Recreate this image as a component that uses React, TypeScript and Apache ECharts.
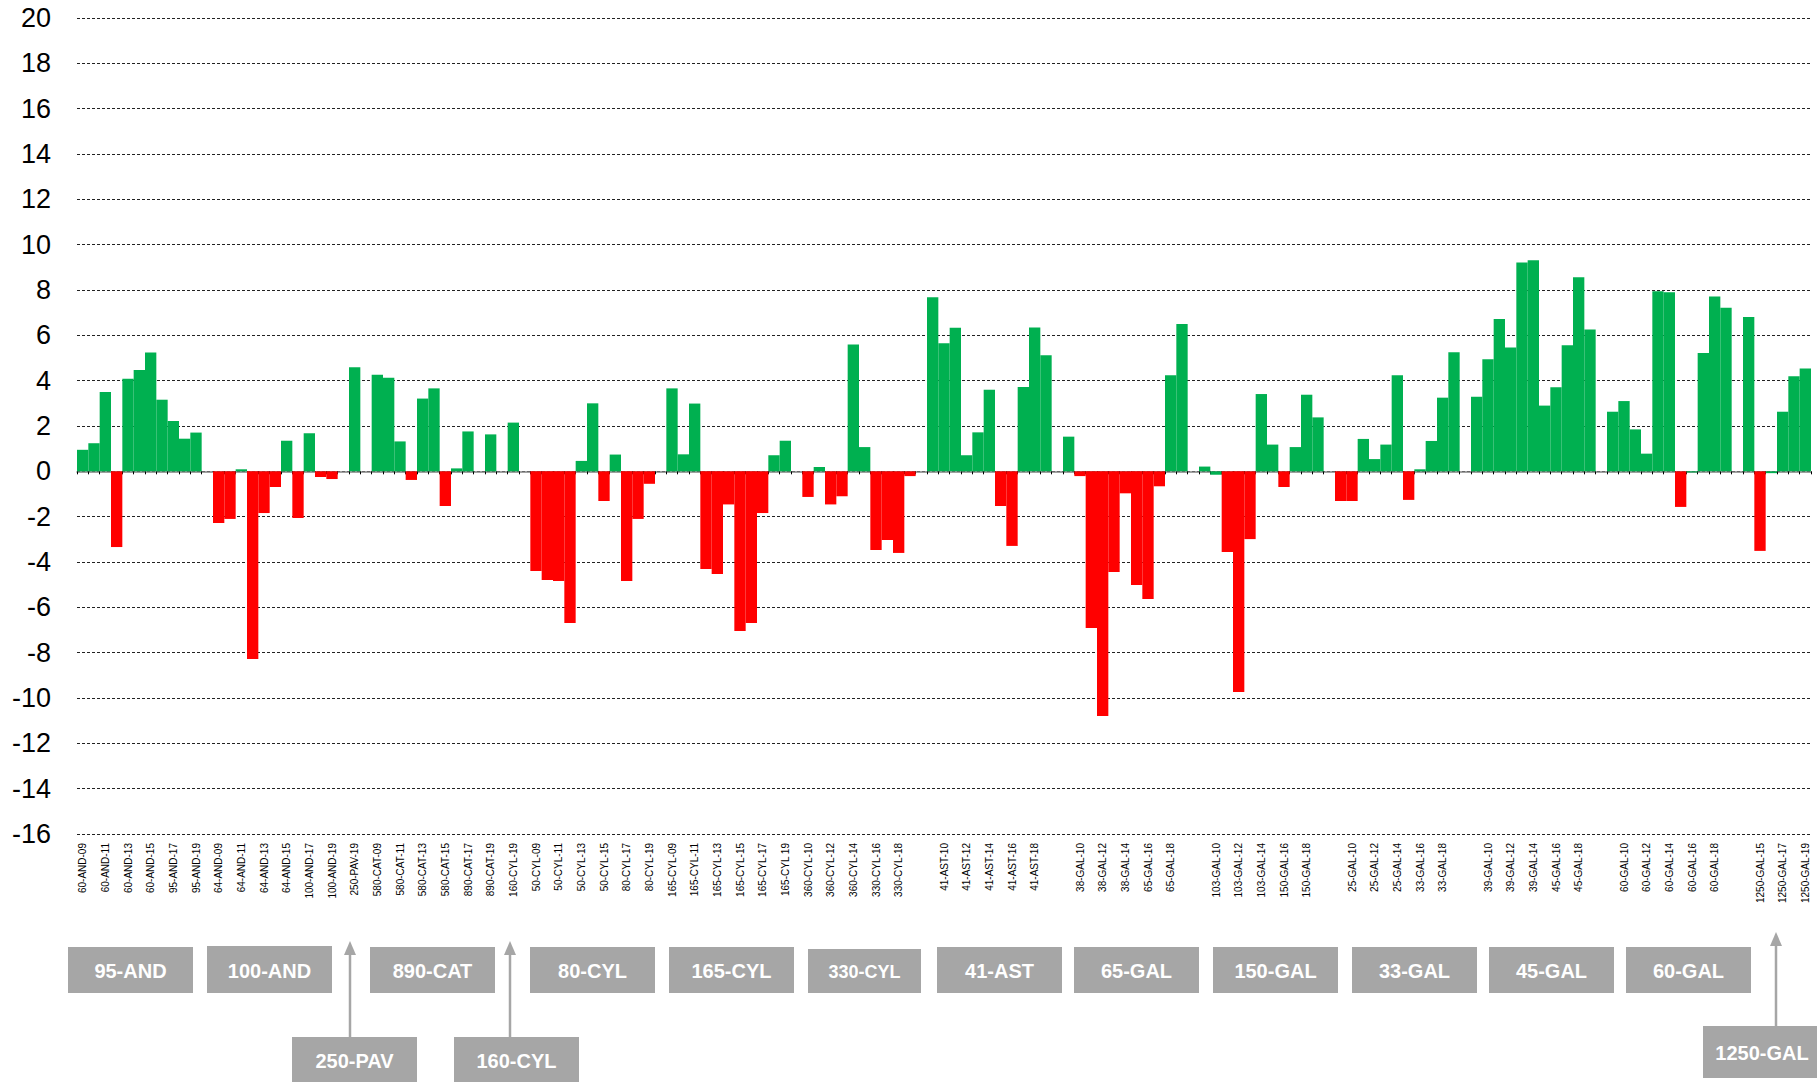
import React, { useEffect, useRef } from 'react';
import * as echarts from 'echarts';

// Category labels (one per bar slot; '' = empty separator slot)
const categories = [
  '60-AND-09', '60-AND-10', '60-AND-11', '60-AND-12', '60-AND-13', '60-AND-14', '60-AND-15', '60-AND-16', '95-AND-17', '95-AND-18', '95-AND-19',
  '',
  '64-AND-09', '64-AND-10', '64-AND-11', '64-AND-12', '64-AND-13', '64-AND-14', '64-AND-15', '64-AND-16', '100-AND-17', '100-AND-18', '100-AND-19',
  '',
  '250-PAV-19',
  '',
  '580-CAT-09', '580-CAT-10', '580-CAT-11', '580-CAT-12', '580-CAT-13', '580-CAT-14', '580-CAT-15', '580-CAT-16', '890-CAT-17', '890-CAT-18', '890-CAT-19',
  '',
  '160-CYL-19',
  '',
  '50-CYL-09', '50-CYL-10', '50-CYL-11', '50-CYL-12', '50-CYL-13', '50-CYL-14', '50-CYL-15', '50-CYL-16', '80-CYL-17', '80-CYL-18', '80-CYL-19',
  '',
  '165-CYL-09', '165-CYL-10', '165-CYL-11', '165-CYL-12', '165-CYL-13', '165-CYL-14', '165-CYL-15', '165-CYL-16', '165-CYL-17', '165-CYL-18', '165-CYL 19',
  '360-CYL-09', '360-CYL-10', '360-CYL-11', '360-CYL-12', '360-CYL-13', '360-CYL-14', '360-CYL-15', '330-CYL-16', '330-CYL-17', '330-CYL-18', '330-CYL-19',
  '',
  '41-AST-09', '41-AST-10', '41-AST-11', '41-AST-12', '41-AST-13', '41-AST-14', '41-AST-15', '41-AST-16', '41-AST-17', '41-AST-18', '41-AST-19',
  '',
  '38-GAL-09', '38-GAL-10', '38-GAL-11', '38-GAL-12', '38-GAL-13', '38-GAL-14', '38-GAL-15', '65-GAL-16', '65-GAL-17', '65-GAL-18', '65-GAL-19',
  '',
  '103-GAL-09', '103-GAL-10', '103-GAL-11', '103-GAL-12', '103-GAL-13', '103-GAL-14', '103-GAL-15', '150-GAL-16', '150-GAL-17', '150-GAL-18', '150-GAL-19',
  '',
  '25-GAL-09', '25-GAL-10', '25-GAL-11', '25-GAL-12', '25-GAL-13', '25-GAL-14', '25-GAL-15', '33-GAL-16', '33-GAL-17', '33-GAL-18', '33-GAL-19',
  '',
  '39-GAL-09', '39-GAL-10', '39-GAL-11', '39-GAL-12', '39-GAL-13', '39-GAL-14', '39-GAL-15', '45-GAL-16', '45-GAL-17', '45-GAL-18', '45-GAL-19',
  '',
  '60-GAL-09', '60-GAL-10', '60-GAL-11', '60-GAL-12', '60-GAL-13', '60-GAL-14', '60-GAL-15', '60-GAL-16', '60-GAL-17', '60-GAL-18', '60-GAL-19',
  '',
  '1250-GAL-14', '1250-GAL-15', '1250-GAL-16', '1250-GAL-17', '1250-GAL-18', '1250-GAL-19',
];

// Green series (one value per slot)
const gains = [
  0.95, 1.24, 3.5, null, 4.09, 4.47, 5.24, 3.16, 2.22, 1.44, 1.71,
  null,
  null, null, 0.09, null, null, null, 1.35, null, 1.68, null, null,
  null,
  4.59,
  null,
  4.26, 4.13, 1.32, null, 3.21, 3.66, null, 0.13, 1.76, null, 1.63,
  null,
  2.15,
  null,
  null, null, null, null, 0.46, 3.0, null, 0.74, null, null, null,
  null,
  3.66, 0.75, 2.99, null, null, null, null, null, null, 0.71, 1.35,
  null, null, 0.19, null, null, 5.6, 1.07, null, null, null, null,
  null,
  7.68, 5.65, 6.34, 0.71, 1.72, 3.6, null, null, 3.72, 6.35, 5.12,
  null,
  1.53, null, null, null, null, null, null, null, null, 4.24, 6.5,
  null,
  0.21, -0.15, null, null, null, 3.41, 1.18, null, 1.07, 3.38, 2.38,
  null,
  null, null, 1.43, 0.54, 1.18, 4.24, null, 0.09, 1.34, 3.25, 5.25,
  null,
  3.29, 4.94, 6.72, 5.46, 9.21, 9.31, 2.9, 3.71, 5.56, 8.56, 6.26,
  null,
  2.63, 3.1, 1.85, 0.78, 7.94, 7.9, null, -0.05, 5.22, 7.71, 7.22,
  null,
  6.81, null, -0.08, 2.63, 4.19, 4.54,
];

// Red series (one value per slot)
const losses = [
  null, null, null, -3.34, null, null, null, null, null, null, null,
  null,
  -2.28, -2.1, null, -8.28, -1.84, -0.69, null, -2.06, null, -0.25, -0.34,
  null,
  null,
  null,
  null, null, null, -0.38, null, null, -1.53, null, null, null, null,
  null,
  null,
  null,
  -4.4, -4.79, -4.84, -6.69, null, null, -1.31, null, -4.84, -2.1, -0.55,
  null,
  null, null, null, -4.31, -4.53, -1.46, -7.04, -6.69, -1.84, null, null,
  null, -1.13, null, -1.46, -1.1, null, null, -3.47, -3.03, -3.6, -0.21,
  null,
  null, null, null, null, null, null, -1.53, -3.29, null, null, null,
  null,
  null, -0.21, -6.91, -10.79, -4.44, -0.97, -5.01, -5.63, -0.66, null, null,
  null,
  null, null, -3.56, -9.74, -2.99, null, null, -0.69, null, null, null,
  null,
  -1.31, -1.31, null, null, null, null, -1.26, null, null, null, null,
  null,
  null, null, null, null, null, null, null, null, null, null, null,
  null,
  null, null, null, null, null, null, -1.57, null, null, null, null,
  null,
  null, -3.51, null, null, null, null,
];

// Group boxes under the chart
const groupNames = ['95-AND', '100-AND', '890-CAT', '80-CYL', '165-CYL', '330-CYL', '41-AST', '65-GAL', '150-GAL', '33-GAL', '45-GAL', '60-GAL'];
const groupBoxLeft = [68, 207, 370, 530, 669, 808, 937, 1074, 1213, 1352, 1489, 1626];
const groupBoxWidth = [125, 125, 125, 125, 125, 113, 125, 125, 125, 125, 125, 125];
const groupBoxTop = [947, 946, 947, 947, 947, 949, 947, 947, 947, 947, 947, 947];
const groupFontSize = [20, 20, 20, 20, 20, 18, 20, 20, 20, 20, 20, 20];

// Callout boxes with arrows
const calloutNames = ['250-PAV', '160-CYL', '1250-GAL'];
const calloutBoxLeft = [292, 454, 1703];
const calloutBoxTop = [1037, 1037, 1026];
const calloutBoxWidth = [125, 125, 142];
const calloutTextX = [354.5, 516.5, 1762];
const calloutArrowX = [350, 510, 1776];
const calloutArrowTip = [941, 941, 932];

const GREEN = '#00B050';
const RED = '#FF0000';
const BOX = '#A6A6A6';
const FONT = 'Liberation Sans, Arial, sans-serif';

export default function App() {
  const ref = useRef<HTMLDivElement>(null);

  useEffect(() => {
    if (!ref.current) return;
    const chart = echarts.init(ref.current, undefined, { renderer: 'svg' });

    const graphics: any[] = [];
    groupNames.forEach((name, i) => {
      const x = groupBoxLeft[i];
      const w = groupBoxWidth[i];
      const top = groupBoxTop[i];
      const h = 993 - top;
      graphics.push({
        type: 'rect',
        shape: { x, y: top, width: w, height: h },
        style: { fill: BOX },
      });
      graphics.push({
        type: 'text',
        x: x + w / 2,
        y: top + h / 2 + 1,
        style: {
          text: name,
          fill: '#fff',
          fontSize: groupFontSize[i],
          fontWeight: 'bold',
          fontFamily: FONT,
          align: 'center',
          verticalAlign: 'middle',
        },
      });
    });
    calloutNames.forEach((name, i) => {
      const x = calloutBoxLeft[i];
      const top = calloutBoxTop[i];
      const w = calloutBoxWidth[i];
      const h = 1082 - top - (i === 2 ? 4 : 0);
      const ax = calloutArrowX[i];
      const tip = calloutArrowTip[i];
      graphics.push({
        type: 'line',
        shape: { x1: ax, y1: top, x2: ax, y2: tip + 12 },
        style: { stroke: BOX, lineWidth: 2.5 },
      });
      graphics.push({
        type: 'polygon',
        shape: { points: [[ax, tip], [ax - 6, tip + 14], [ax + 6, tip + 14]] },
        style: { fill: BOX },
      });
      graphics.push({
        type: 'rect',
        shape: { x, y: top, width: w, height: h },
        style: { fill: BOX },
      });
      graphics.push({
        type: 'text',
        x: calloutTextX[i],
        y: top + h / 2 + 1,
        style: {
          text: name,
          fill: '#fff',
          fontSize: 20,
          fontWeight: 'bold',
          fontFamily: FONT,
          align: 'center',
          verticalAlign: 'middle',
        },
      });
    });

    chart.setOption({
      animation: false,
      backgroundColor: '#ffffff',
      grid: { left: 77, right: 6, top: 18, bottom: 248, containLabel: false },
      xAxis: [
        {
          type: 'category',
          data: categories,
          position: 'bottom',
          axisLine: { show: false, onZero: false },
          axisTick: { show: false },
          splitLine: { show: false },
          axisLabel: {
            interval: 1,
            rotate: 90,
            margin: 9,
            fontSize: 10,
            color: '#000',
            fontFamily: FONT,
          },
        },
        {
          type: 'category',
          data: categories,
          position: 'bottom',
          axisLine: { show: true, onZero: true, lineStyle: { color: '#808080', width: 1.5 } },
          axisTick: { show: true, interval: 0, length: 3, lineStyle: { color: '#000', width: 1 } },
          axisLabel: { show: false },
          splitLine: { show: false },
        },
      ],
      yAxis: {
        type: 'value',
        min: -16,
        max: 20,
        interval: 2,
        axisLine: { show: false },
        axisTick: { show: false },
        axisLabel: {
          margin: 26,
          fontSize: 27,
          color: '#000',
          fontFamily: FONT,
        },
        splitLine: { show: true, lineStyle: { color: '#222', width: 1, type: [3, 2] } },
      },
      series: [
        {
          type: 'bar',
          data: gains,
          xAxisIndex: 0,
          barCategoryGap: '0%',
          barGap: '-100%',
          itemStyle: { color: GREEN, borderWidth: 0 },
        },
        {
          type: 'bar',
          data: losses,
          xAxisIndex: 0,
          barCategoryGap: '0%',
          barGap: '-100%',
          itemStyle: { color: RED, borderWidth: 0 },
        },
      ],
      graphic: graphics,
    });

    return () => chart.dispose();
  }, []);

  return (
    <div
      ref={ref}
      style={{ position: 'fixed', left: 0, top: 0, width: 1817, height: 1082, background: '#fff' }}
    />
  );
}
